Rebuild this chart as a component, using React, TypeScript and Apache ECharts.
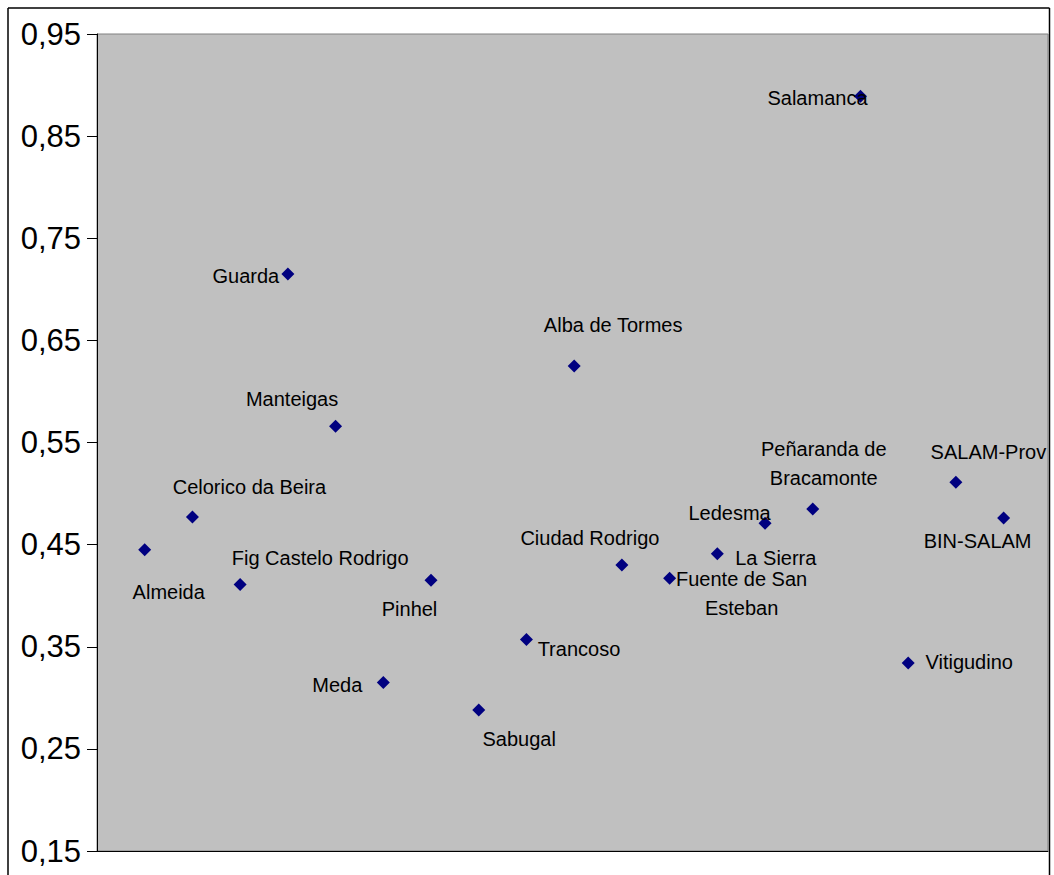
import React, { useEffect, useRef } from "react";
import * as echarts from "echarts";

const names = [
  "Almeida",
  "Celorico da Beira",
  "Fig Castelo Rodrigo",
  "Guarda",
  "Manteigas",
  "Meda",
  "Pinhel",
  "Sabugal",
  "Trancoso",
  "Alba de Tormes",
  "Ciudad Rodrigo",
  "Fuente de San\nEsteban",
  "La Sierra",
  "Ledesma",
  "Peñaranda de\nBracamonte",
  "Salamanca",
  "Vitigudino",
  "SALAM-Prov",
  "BIN-SALAM",
];

const values = [
  0.445, 0.477, 0.411, 0.715, 0.566, 0.315, 0.415, 0.288, 0.357, 0.625,
  0.43, 0.417, 0.441, 0.471, 0.485, 0.889, 0.334, 0.511, 0.476,
];

// label centre offsets (px) relative to each marker
const labelOffsets: [number, number][] = [
  [24, 42],
  [57, -30],
  [80, -26],
  [-42, 2],
  [-43.5, -27],
  [-46, 3],
  [-21.5, 29],
  [40.5, 29],
  [52.5, 9],
  [39, -41],
  [-32, -27],
  [72, 15],
  [58.5, 4],
  [-35.5, -10],
  [11, -45.5],
  [-43, 2],
  [61, -1],
  [32.5, -30],
  [-26, 23],
];

const yMin = 0.15;
const yMax = 0.95;
const yStep = 0.1;

export default function App() {
  const ref = useRef<HTMLDivElement>(null);

  useEffect(() => {
    if (!ref.current) return;
    const chart = echarts.init(ref.current, null, { renderer: "svg" });
    const font = "'Liberation Sans', Arial, sans-serif";
    chart.setOption({
      animation: false,
      backgroundColor: "#ffffff",
      grid: {
        left: 97,
        top: 34,
        right: 6,
        bottom: 24,
        show: true,
        backgroundColor: "#C0C0C0",
        borderColor: "#808080",
        borderWidth: 1,
      },
      xAxis: {
        type: "value",
        min: 0,
        max: 19.93,
        splitLine: { show: false },
        axisLabel: { show: false },
        axisTick: { show: false },
        axisLine: { show: true, onZero: false, lineStyle: { color: "#000", width: 1 } },
      },
      yAxis: {
        type: "value",
        min: yMin,
        max: yMax,
        interval: yStep,
        splitLine: { show: false },
        axisLine: { show: true, lineStyle: { color: "#000", width: 1 } },
        axisTick: { show: true, length: 10, lineStyle: { color: "#000" } },
        axisLabel: {
          margin: 16,
          fontSize: 31,
          fontFamily: font,
          color: "#000",
          formatter: (v: number) => v.toFixed(2).replace(".", ","),
          rich: {},
        },
      },
      graphic: [
        { type: "line", shape: { x1: 8, y1: 8, x2: 1049.5, y2: 8 }, style: { stroke: "#000", lineWidth: 1.5 }, z: 100 },
        { type: "line", shape: { x1: 8, y1: 8, x2: 8, y2: 880 }, style: { stroke: "#000", lineWidth: 1.5 }, z: 100 },
        { type: "line", shape: { x1: 1049.5, y1: 8, x2: 1049.5, y2: 880 }, style: { stroke: "#000", lineWidth: 1.5 }, z: 100 },
      ],
      series: [
        {
          type: "scatter",
          symbol: "diamond",
          symbolSize: 13,
          itemStyle: { color: "#000080", opacity: 1 },
          data: values.map((v, i) => ({
            value: [i + 1, v],
            name: names[i],
            label: {
              show: true,
              position: "inside",
              offset: labelOffsets[i],
              align: "center",
              verticalAlign: "middle",
              formatter: names[i],
              fontSize: 20,
              lineHeight: 29,
              fontFamily: font,
              color: "#000",
            },
          })),
        },
      ],
    });
    return () => chart.dispose();
  }, []);

  return (
    <div
      ref={ref}
      style={{ position: "fixed", left: 0, top: 0, width: 1054, height: 875 }}
    />
  );
}
